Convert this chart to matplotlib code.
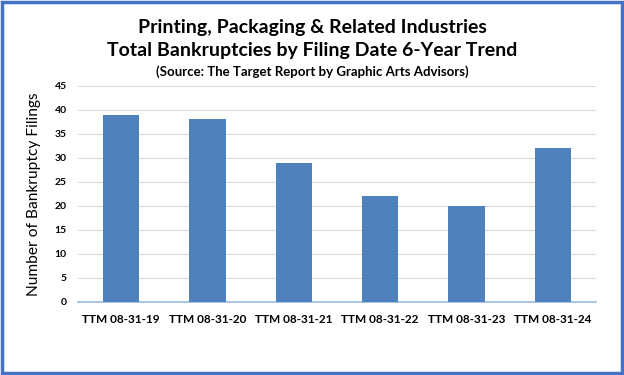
import matplotlib.pyplot as plt
from matplotlib.patches import Rectangle

# Bankruptcy filings per trailing-twelve-month period
periods = ['TTM 08-31-19', 'TTM 08-31-20', 'TTM 08-31-21',
           'TTM 08-31-22', 'TTM 08-31-23', 'TTM 08-31-24']
filings = [39, 38, 29, 22, 20, 32]
y_ticks = [0, 5, 10, 15, 20, 25, 30, 35, 40, 45]

plt.rcParams['font.family'] = ['Lato', 'DejaVu Sans']

fig = plt.figure(figsize=(6.24, 3.75), dpi=100)
ax = fig.add_axes([0.125, 0.195, 0.83, 0.576])

ax.bar(range(len(periods)), filings, width=0.42, color='#4F81BD', zorder=3)
ax.set_xlim(-0.5, len(periods) - 0.5)
ax.set_ylim(0, 45)
ax.set_yticks(y_ticks)
ax.set_xticks(range(len(periods)))
ax.set_xticklabels(periods, fontsize=8.5, fontweight='bold')
for lbl in ax.get_yticklabels():
    lbl.set_fontsize(7.5)
    lbl.set_fontweight('bold')
ax.tick_params(length=0, pad=8)
ax.tick_params(axis='x', pad=9)
ax.grid(axis='y', color='#d9d9d9', linewidth=0.8, zorder=0)
for s in ['top', 'right', 'left']:
    ax.spines[s].set_visible(False)
ax.spines['bottom'].set_color('#9dbbe0')
ax.spines['bottom'].set_linewidth(1.2)
ax.set_ylabel('Number of Bankruptcy Filings', fontsize=11.2, labelpad=10)

fig.text(0.5, 0.928, 'Printing, Packaging & Related Industries',
         ha='center', va='center', fontsize=14, fontweight='bold')
fig.text(0.5, 0.866, 'Total Bankruptcies by Filing Date 6-Year Trend',
         ha='center', va='center', fontsize=14, fontweight='bold')
fig.text(0.5, 0.808, '(Source: The Target Report by Graphic Arts Advisors)',
         ha='center', va='center', fontsize=9.5, fontweight='bold')

# blue frame around the figure
fig.patches.append(Rectangle((0.003, 0.005), 0.994, 0.99, transform=fig.transFigure,
                             fill=False, edgecolor='#4472C4', linewidth=2.5))

fig.savefig('out.png', dpi=100)
